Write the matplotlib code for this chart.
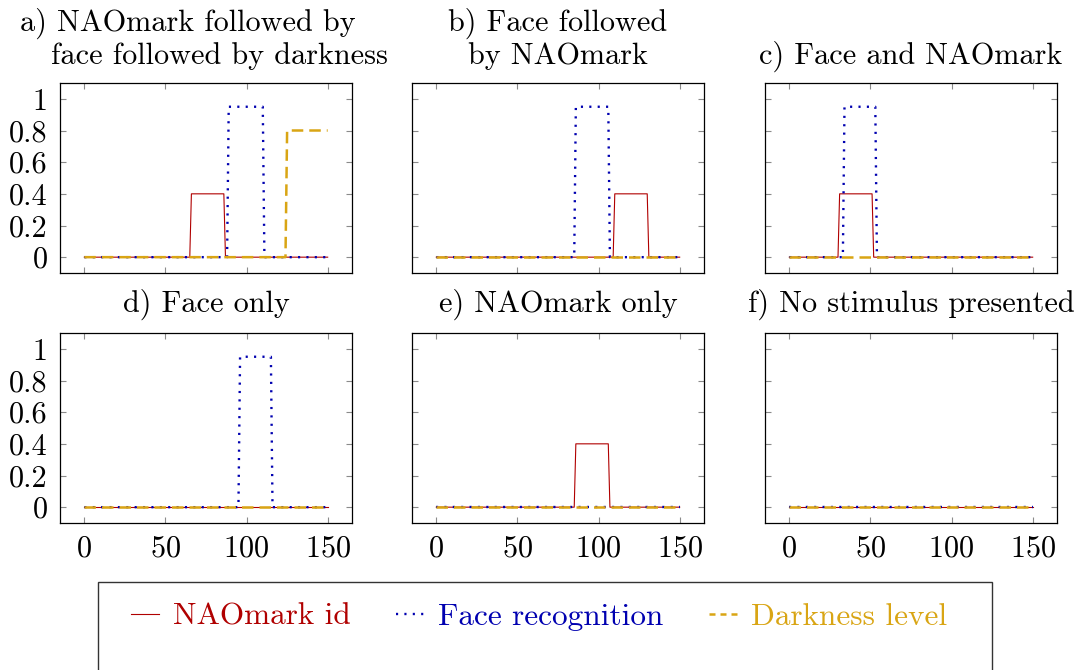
import matplotlib
matplotlib.use("Agg")
import matplotlib.pyplot as plt
from matplotlib.patches import Rectangle
from matplotlib.lines import Line2D

plt.rcParams["font.family"] = "cmr10"
plt.rcParams["mathtext.fontset"] = "cm"
plt.rcParams["axes.formatter.use_mathtext"] = True

# ---- data ----
series_names = ["NAOmark id", "Face recognition", "Darkness level"]
series_colors = ["#B00000", "#0000B0", "#D9A514"]

x_ticks = [0, 50, 100, 150]
y_ticks = [0, 0.2, 0.4, 0.6, 0.8, 1]
y_tick_labels = ["0", "0.2", "0.4", "0.6", "0.8", "1"]

# a) NAOmark followed by face followed by darkness
a_mark_t = [0, 65, 66, 86, 87, 150]
a_mark_v = [0, 0, 0.4, 0.4, 0, 0]
a_face_t = [0, 88, 89, 110, 111, 150]
a_face_v = [0, 0, 0.95, 0.95, 0, 0]
a_dark_t = [0, 124, 125, 150]
a_dark_v = [0, 0, 0.8, 0.8]

# b) Face followed by NAOmark
b_mark_t = [0, 109, 110, 130, 131, 150]
b_mark_v = [0, 0, 0.4, 0.4, 0, 0]
b_face_t = [0, 85, 86, 106, 107, 150]
b_face_v = [0, 0, 0.95, 0.95, 0, 0]
b_dark_t = [0, 150]
b_dark_v = [0, 0]

# c) Face and NAOmark
c_mark_t = [0, 30, 31, 51, 52, 150]
c_mark_v = [0, 0, 0.4, 0.4, 0, 0]
c_face_t = [0, 33, 34, 53, 54, 150]
c_face_v = [0, 0, 0.95, 0.95, 0, 0]
c_dark_t = [0, 150]
c_dark_v = [0, 0]

# d) Face only
d_mark_t = [0, 150]
d_mark_v = [0, 0]
d_face_t = [0, 95, 96, 115, 116, 150]
d_face_v = [0, 0, 0.95, 0.95, 0, 0]
d_dark_t = [0, 150]
d_dark_v = [0, 0]

# e) NAOmark only
e_mark_t = [0, 85, 86, 106, 107, 150]
e_mark_v = [0, 0, 0.4, 0.4, 0, 0]
e_face_t = [0, 150]
e_face_v = [0, 0]
e_dark_t = [0, 150]
e_dark_v = [0, 0]

# f) No stimulus presented
f_mark_t = [0, 150]
f_mark_v = [0, 0]
f_face_t = [0, 150]
f_face_v = [0, 0]
f_dark_t = [0, 150]
f_dark_v = [0, 0]

panel_titles = [
    ["a) NAOmark followed by", "face followed by darkness"],
    ["b) Face followed", "by NAOmark"],
    ["c) Face and NAOmark"],
    ["d) Face only"],
    ["e) NAOmark only"],
    ["f) No stimulus presented"],
]

panels = [
    [(a_mark_t, a_mark_v), (a_face_t, a_face_v), (a_dark_t, a_dark_v)],
    [(b_mark_t, b_mark_v), (b_face_t, b_face_v), (b_dark_t, b_dark_v)],
    [(c_mark_t, c_mark_v), (c_face_t, c_face_v), (c_dark_t, c_dark_v)],
    [(d_mark_t, d_mark_v), (d_face_t, d_face_v), (d_dark_t, d_dark_v)],
    [(e_mark_t, e_mark_v), (e_face_t, e_face_v), (e_dark_t, e_dark_v)],
    [(f_mark_t, f_mark_v), (f_face_t, f_face_v), (f_dark_t, f_dark_v)],
]

# ---- layout (pixels) ----
W, H = 1078, 670
FS = 21.8
col_left = [60, 412, 765]
ax_w = 292
row_top = [83, 333]
ax_h = 190

styles = [
    dict(lw=0.8, ls="-"),
    dict(lw=1.7, ls=(0, (0.9, 2.65))),
    dict(lw=1.8, ls=(0, (4.6, 2.4))),
]

fig = plt.figure(figsize=(W / 100, H / 100), dpi=100)


def px_text(x, y, s, **kw):
    fig.text(x / W, 1 - y / H, s, fontsize=FS, **kw)


for i, series in enumerate(panels):
    r, c = divmod(i, 3)
    x0, y0 = col_left[c], row_top[r]
    ax = fig.add_axes([x0 / W, 1 - (y0 + ax_h) / H, ax_w / W, ax_h / H])
    for k, (t, v) in enumerate(series):
        ax.plot(t, v, color=series_colors[k], linewidth=styles[k]["lw"],
                linestyle=styles[k]["ls"], dash_capstyle="butt",
                zorder=2 + k)
    ax.set_xlim(-15, 165)
    ax.set_ylim(-0.1, 1.1)
    ax.set_xticks(x_ticks)
    ax.set_yticks(y_ticks)
    ax.set_yticklabels(y_tick_labels)
    ax.tick_params(direction="in", length=4.5, width=0.8, color="#8a8a8a",
                   top=True, right=True, labelsize=FS, pad=9,
                   labelbottom=(r == 1), labelleft=(c == 0))
    for sp in ax.spines.values():
        sp.set_linewidth(0.9)
        sp.set_color("black")

    cx = x0 + ax_w / 2
    lines = panel_titles[i]
    if r == 0:
        if len(lines) == 2:
            if i == 0:
                px_text(cx - 18, 31, lines[0], ha="center", va="baseline")
                px_text(cx + 13, 64, lines[1], ha="center", va="baseline")
            else:
                px_text(cx, 31, lines[0], ha="center", va="baseline")
                px_text(cx, 64, lines[1], ha="center", va="baseline")
        else:
            px_text(cx, 64, lines[0], ha="center", va="baseline")
    else:
        px_text(cx, 312, lines[0], ha="center", va="baseline")

# legend box (runs off the bottom edge as in the reference)
box = Rectangle((98 / W, -0.1), (992 - 98) / W, 0.1 + (1 - 582 / H),
                transform=fig.transFigure, fill=False, edgecolor="#333333",
                linewidth=1.0, clip_on=False)
fig.patches.append(box)

legend_styles = [
    dict(lw=0.8, ls="-"),
    dict(lw=1.7, ls=(0, (0.9, 2.65))),
    dict(lw=1.8, ls=(0, (2.4, 2.0))),
]
handles = [Line2D([], [], color=col, linewidth=st["lw"], linestyle=st["ls"],
                  dash_capstyle="butt")
           for col, st in zip(series_colors, legend_styles)]
leg = fig.legend(handles, series_names, ncol=3, frameon=False,
                 loc="center", bbox_to_anchor=(539 / W, 1 - 617 / H),
                 fontsize=22.5, handlelength=0.9, handletextpad=0.45,
                 columnspacing=1.45)
for txt, col in zip(leg.get_texts(), series_colors):
    txt.set_color(col)

fig.savefig("out.png", dpi=100)
